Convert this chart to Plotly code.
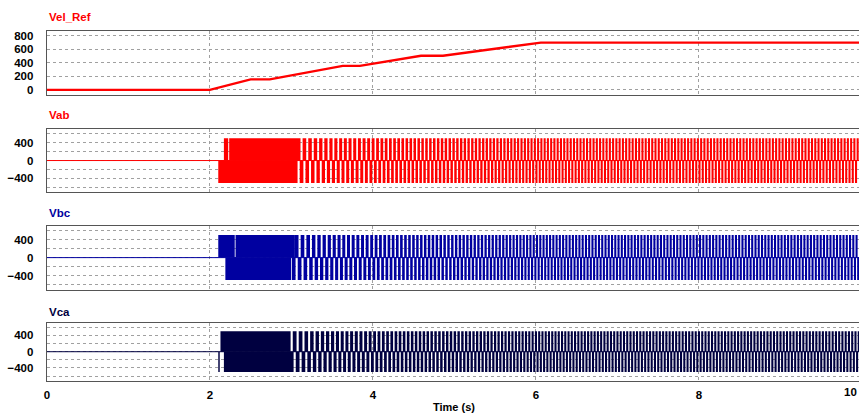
import numpy as np
import plotly.graph_objects as go

# ---------------- data ----------------
vel_time = [0.0, 2.0, 2.5, 2.735, 3.63, 3.84, 4.59, 4.86, 6.06, 10.0]
vel_ref = [0, 0, 155, 155, 355, 355, 505, 505, 700, 700]

v_dc = 500  # pulse height of the line voltages

# apparent fundamental (stripe) frequency vs speed, read from stripe spacing
stripe_vel = [230, 410, 700]
stripe_hz = [13.7, 19.0, 25.0]
stripe_duty = 0.64  # share of each stripe period that is filled

# solid (densely switching) intervals per half wave; stripes follow the last one
vab_top_solid = [(2.172, 2.225), (2.237, 3.068)]
vab_bot_solid = [(2.103, 3.056)]
vbc_top_solid = [(2.103, 2.305), (2.315, 3.04)]
vbc_bot_solid = [(2.19, 2.995)]
vca_top_solid = [(2.13, 2.98)]
vca_bot_solid = [(2.103, 2.121), (2.172, 3.02)]
phase_offsets = [0.0, 1 / 3, 2 / 3]

panel_names = ["Vab", "Vbc", "Vca"]
panel_colors = ["#FF0000", "#0000A0", "#000040"]
solids = [(vab_top_solid, vab_bot_solid), (vbc_top_solid, vbc_bot_solid),
          (vca_top_solid, vca_bot_solid)]

x_tick_vals = [0, 2, 4, 6, 8, 10]
vel_ticks = [0, 200, 400, 600, 800]
volt_ticks = [-400, 0, 400]

# ---------------- layout geometry ----------------
W, H = 859, 416
PX0 = 44.0          # pixel of t = 0
PXS = 81.8          # pixels per second
T_END = (W - PX0) / PXS
SUB = 40


def py(p):
    return 1 - p / H


panels_px = [(30, 94.3), (128.3, 192.3), (225.7, 290), (323.3, 381.5)]
title_px = [16, 114.3, 213, 312]

# ---------------- build pulse rectangles ----------------
n_fine = int(round((W - PX0) * SUB))
dt = 1 / (SUB * PXS)
t_fine = (np.arange(n_fine) + 0.5) * dt
vel_fine = np.interp(t_fine, vel_time, vel_ref)
f_fine = np.interp(vel_fine, stripe_vel, stripe_hz)
phase_base = np.cumsum(f_fine * dt)


def half_rects(solid, sign, phase):
    on = np.zeros_like(t_fine, dtype=bool)
    for a, b in solid:
        on |= (t_fine >= a) & (t_fine < b)
    t_stripe = solid[-1][1]
    shift = 0.0 if sign > 0 else 0.5
    frac = np.mod(phase + shift, 1.0)
    on |= (t_fine >= t_stripe) & (frac < stripe_duty)
    edges = np.diff(np.concatenate([[0], on.astype(int), [0]]))
    starts = np.where(edges == 1)[0]
    ends = np.where(edges == -1)[0]
    xs, ys = [], []
    for s, e in zip(starts, ends):
        x0, x1 = s * dt, e * dt
        xs += [x0, x0, x1, x1, x0, None]
        ys += [0, sign * v_dc, sign * v_dc, 0, 0, None]
    return xs, ys


fig = go.Figure()

# Vel_Ref
fig.add_trace(go.Scatter(x=vel_time, y=vel_ref, mode="lines",
                         line=dict(color="#FF0000", width=2.4),
                         xaxis="x", yaxis="y", showlegend=False))

for k in range(3):
    ax = str(k + 2)
    color = panel_colors[k]
    fig.add_trace(go.Scatter(x=[0, 10], y=[0, 0], mode="lines",
                             line=dict(color=color, width=1),
                             xaxis="x" + ax, yaxis="y" + ax, showlegend=False))
    ph = phase_base + phase_offsets[k]
    top, bot = solids[k]
    for solid, sign in ((top, 1), (bot, -1)):
        xs, ys = half_rects(solid, sign, ph)
        fig.add_trace(go.Scatter(x=xs, y=ys, mode="lines", fill="toself",
                                 fillcolor=color, line=dict(width=0, color=color),
                                 xaxis="x" + ax, yaxis="y" + ax,
                                 showlegend=False, hoverinfo="skip"))

tick_font = dict(family="Liberation Sans, Arial, sans-serif", size=11.5,
                 color="black", weight="bold")
grid = dict(showgrid=True, gridcolor="#A0A0A0", gridwidth=1, griddash="dot")
line_style = dict(showline=True, linecolor="#555555", linewidth=1.3)

layout = dict(width=W, height=H, margin=dict(l=0, r=0, t=0, b=0),
              plot_bgcolor="white", paper_bgcolor="white", showlegend=False)

for i, (top_px, bot_px) in enumerate(panels_px):
    sfx = "" if i == 0 else str(i + 1)
    layout["xaxis" + sfx] = dict(
        domain=[PX0 / W, 1], range=[0, T_END], anchor="y" + sfx,
        tickvals=x_tick_vals, showticklabels=(i == 3), ticks="",
        tickfont=tick_font, zeroline=False, mirror=True,
        ticklabelstandoff=3, **grid, **line_style)
    if i == 0:
        ydict = dict(range=[-74, 874], tickvals=vel_ticks)
    else:
        ydict = dict(range=[-711, 711], tickvals=volt_ticks,
                     minor=dict(dtick=200, tick0=0, showgrid=True,
                                gridcolor="#A0A0A0", griddash="dot", ticks=""))
    layout["yaxis" + sfx] = dict(
        domain=[py(bot_px), py(top_px)], anchor="x" + sfx, ticks="",
        tickfont=tick_font, zeroline=False, ticklabelstandoff=10,
        **ydict, **grid, **line_style)

fig.update_layout(**layout)

titles = ["Vel_Ref"] + panel_names
title_colors = ["#FF0000"] + panel_colors
for i in range(4):
    fig.add_annotation(text=titles[i], xref="paper", yref="paper",
                       x=PX0 / W, y=py(title_px[i]), xanchor="left",
                       yanchor="middle", showarrow=False,
                       font=dict(family="Liberation Sans, Arial, sans-serif",
                                 size=11.5, color=title_colors[i], weight="bold"))

# t = 10 tick label squeezed against the right window edge
fig.add_annotation(text="10", xref="paper", yref="paper",
                   x=1.0, y=py(393), xanchor="right",
                   yanchor="middle", showarrow=False, font=tick_font)
fig.add_annotation(text="Time (s)", xref="paper", yref="paper",
                   x=453 / W, y=py(408), xanchor="center", yanchor="middle",
                   showarrow=False,
                   font=dict(family="Liberation Sans, Arial, sans-serif",
                             size=11, color="black", weight="bold"))

fig.write_html("out.html")
